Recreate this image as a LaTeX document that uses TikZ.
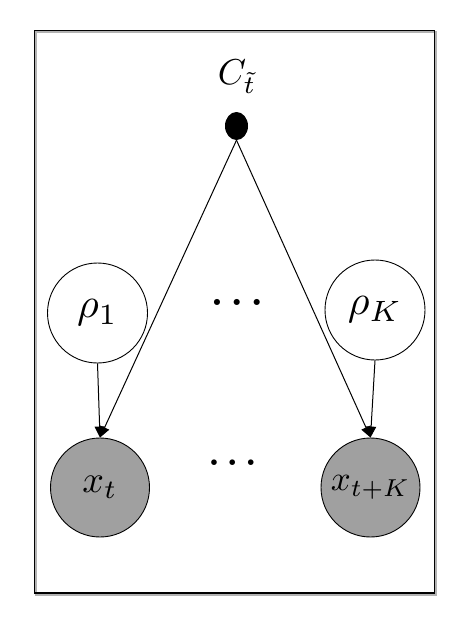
\documentclass[tikz,border=0pt]{standalone}
\usepackage{graphicx}
\usepackage{amsmath,amssymb,bm}
\usetikzlibrary{shapes.geometric,arrows.meta}
\definecolor{obsgray}{RGB}{160,160,160}
\begin{document}
\begin{tikzpicture}[x=1pt,y=-1pt,
  latent/.style={circle,draw,line width=0.9pt,minimum size=100pt,inner sep=0pt,fill=white},
  obs/.style={circle,draw,line width=0.9pt,minimum size=99pt,inner sep=0pt,fill=obsgray},
  edge/.style={line width=1pt,-{Triangle[length=11pt,width=10pt]}}]
\useasboundingbox (0,0) rectangle (464,626);
\draw[line width=2pt,gray!60] (36,32) rectangle (436,595);
\draw[line width=1.6pt] (34.5,30.5) rectangle (434.5,593);
\node (clbl) at (237,77) {\scalebox{3.6}{$C_{\tilde{t}}$}};
\node[ellipse,fill=black,minimum width=23pt,minimum height=28pt,inner sep=0pt] (c) at (236.5,126) {};
\node[latent] (r1) at (97.5,313) {\scalebox{4.2}{$\rho_1$}};
\node[latent] (rk) at (375,310) {\scalebox{4.2}{$\rho_K$}};
\node[obs] (xt) at (100,487.5) {\scalebox{3.8}{$x_t$}};
\node[obs] (xk) at (370.5,487.5) {\scalebox{3.5}{$x_{t+K}$}};
\node (d1) at (237,302) {\scalebox{3.9}{$\bm{\ldots}$}};
\node (d2) at (232.5,463) {\scalebox{3.6}{$\bm{\ldots}$}};
\draw[edge] (c.south) -- (xt.north);
\draw[edge] (c.south) -- (xk.north);
\draw[edge] (r1.south) -- (xt.north);
\draw[edge] (rk.south) -- (xk.north);
\end{tikzpicture}
\end{document}
